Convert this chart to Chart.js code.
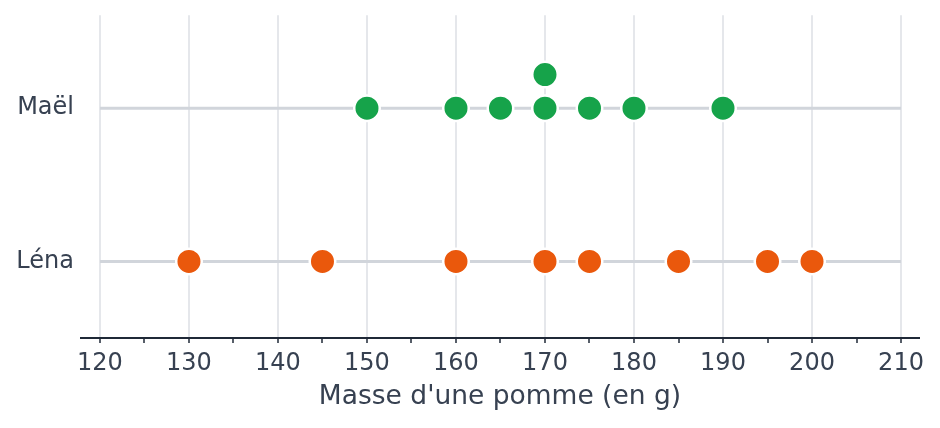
<!DOCTYPE html>
<html>
<head>
<meta charset="utf-8">
<script src="https://cdn.jsdelivr.net/npm/chart.js@4.4.1/dist/chart.umd.min.js"></script>
<style>
html,body{margin:0;padding:0;background:#ffffff;}
#wrap{width:940px;height:428px;position:relative;}
</style>
</head>
<body>
<div id="wrap"><canvas id="c"></canvas></div>
<script>
// ---- data ----
const categories = ['Léna', 'Maël'];
const lenaMasses = [130, 145, 160, 170, 175, 185, 195, 200];
const maelMasses = [150, 160, 165, 170, 170, 175, 180, 190];
const majorTicks = [120, 130, 140, 150, 160, 170, 180, 190, 200, 210];
const minorTicks = [125, 135, 145, 155, 165, 175, 185, 195, 205];
const axisTitle = "Masse d'une pomme (en g)";

// ---- style ----
const textColor = '#374151';
const green = '#16a34a';
const orange = '#ea580c';
const stackStep = 0.22;

function stackPoints(masses, row) {
  const seen = {};
  return masses.map(m => {
    const k = seen[m] || 0;
    seen[m] = k + 1;
    return { x: m, y: row + k * stackStep };
  });
}

const allTicks = majorTicks.concat(minorTicks).sort((a, b) => a - b);
const xMin = majorTicks[0], xMax = majorTicks[majorTicks.length - 1];

const rowLine = (row) => ({
  type: 'scatter',
  data: [{ x: xMin, y: row }, { x: xMax, y: row }],
  showLine: true,
  borderColor: '#d1d5db',
  borderWidth: 3,
  pointRadius: 0,
  pointHoverRadius: 0,
  order: 2
});

const dots = (masses, row, color) => ({
  type: 'scatter',
  data: stackPoints(masses, row),
  backgroundColor: color,
  borderColor: '#ffffff',
  pointBackgroundColor: color,
  pointBorderColor: '#ffffff',
  pointBorderWidth: 2.5,
  pointRadius: 12.75,
  pointHoverRadius: 12.75,
  order: 1
});

Chart.defaults.font.family = '"DejaVu Sans", sans-serif';
Chart.defaults.color = textColor;

new Chart(document.getElementById('c'), {
  type: 'scatter',
  data: {
    datasets: [
      dots(maelMasses, categories.indexOf('Maël'), green),
      dots(lenaMasses, categories.indexOf('Léna'), orange),
      rowLine(categories.indexOf('Maël')),
      rowLine(categories.indexOf('Léna'))
    ]
  },
  options: {
    responsive: true,
    maintainAspectRatio: false,
    animation: false,
    events: [],
    layout: { padding: { top: 14, right: 21, left: 0, bottom: 0 } },
    plugins: { legend: { display: false }, tooltip: { enabled: false } },
    scales: {
      x: {
        type: 'linear',
        min: 117.87,
        max: 212.02,
        afterBuildTicks: (s) => { s.ticks = allTicks.map(v => ({ value: v })); },
        afterFit: (s) => { s.height = 90; s.paddingLeft = 0; s.paddingRight = 0; },
        ticks: {
          autoSkip: false,
          maxRotation: 0,
          padding: 6,
          font: { size: 24 },
          color: textColor,
          callback: (v) => majorTicks.includes(v) ? String(v) : ''
        },
        grid: {
          color: (ctx) => (ctx.tick && majorTicks.includes(ctx.tick.value)) ? '#e5e7eb' : 'rgba(0,0,0,0)',
          lineWidth: 2,
          drawTicks: true,
          tickLength: 5,
          tickColor: '#1f2937',
          tickWidth: 1.5
        },
        border: { display: true, color: '#1f2937', width: 2 },
        title: {
          display: true,
          text: axisTitle,
          font: { size: 26.5 },
          color: textColor,
          padding: { top: 0, bottom: 15 }
        }
      },
      y: {
        type: 'linear',
        min: -0.5,
        max: 1.607,
        afterBuildTicks: (s) => { s.ticks = categories.map((c, i) => ({ value: i })); },
        afterFit: (s) => { s.width = 81; s.paddingTop = 0; s.paddingBottom = 0; },
        ticks: {
          autoSkip: false,
          padding: 7,
          font: { size: 24 },
          color: textColor,
          callback: (v) => categories[v] !== undefined ? categories[v] : ''
        },
        grid: { display: false, drawTicks: false },
        border: { display: false }
      }
    }
  }
});
</script>
</body>
</html>
